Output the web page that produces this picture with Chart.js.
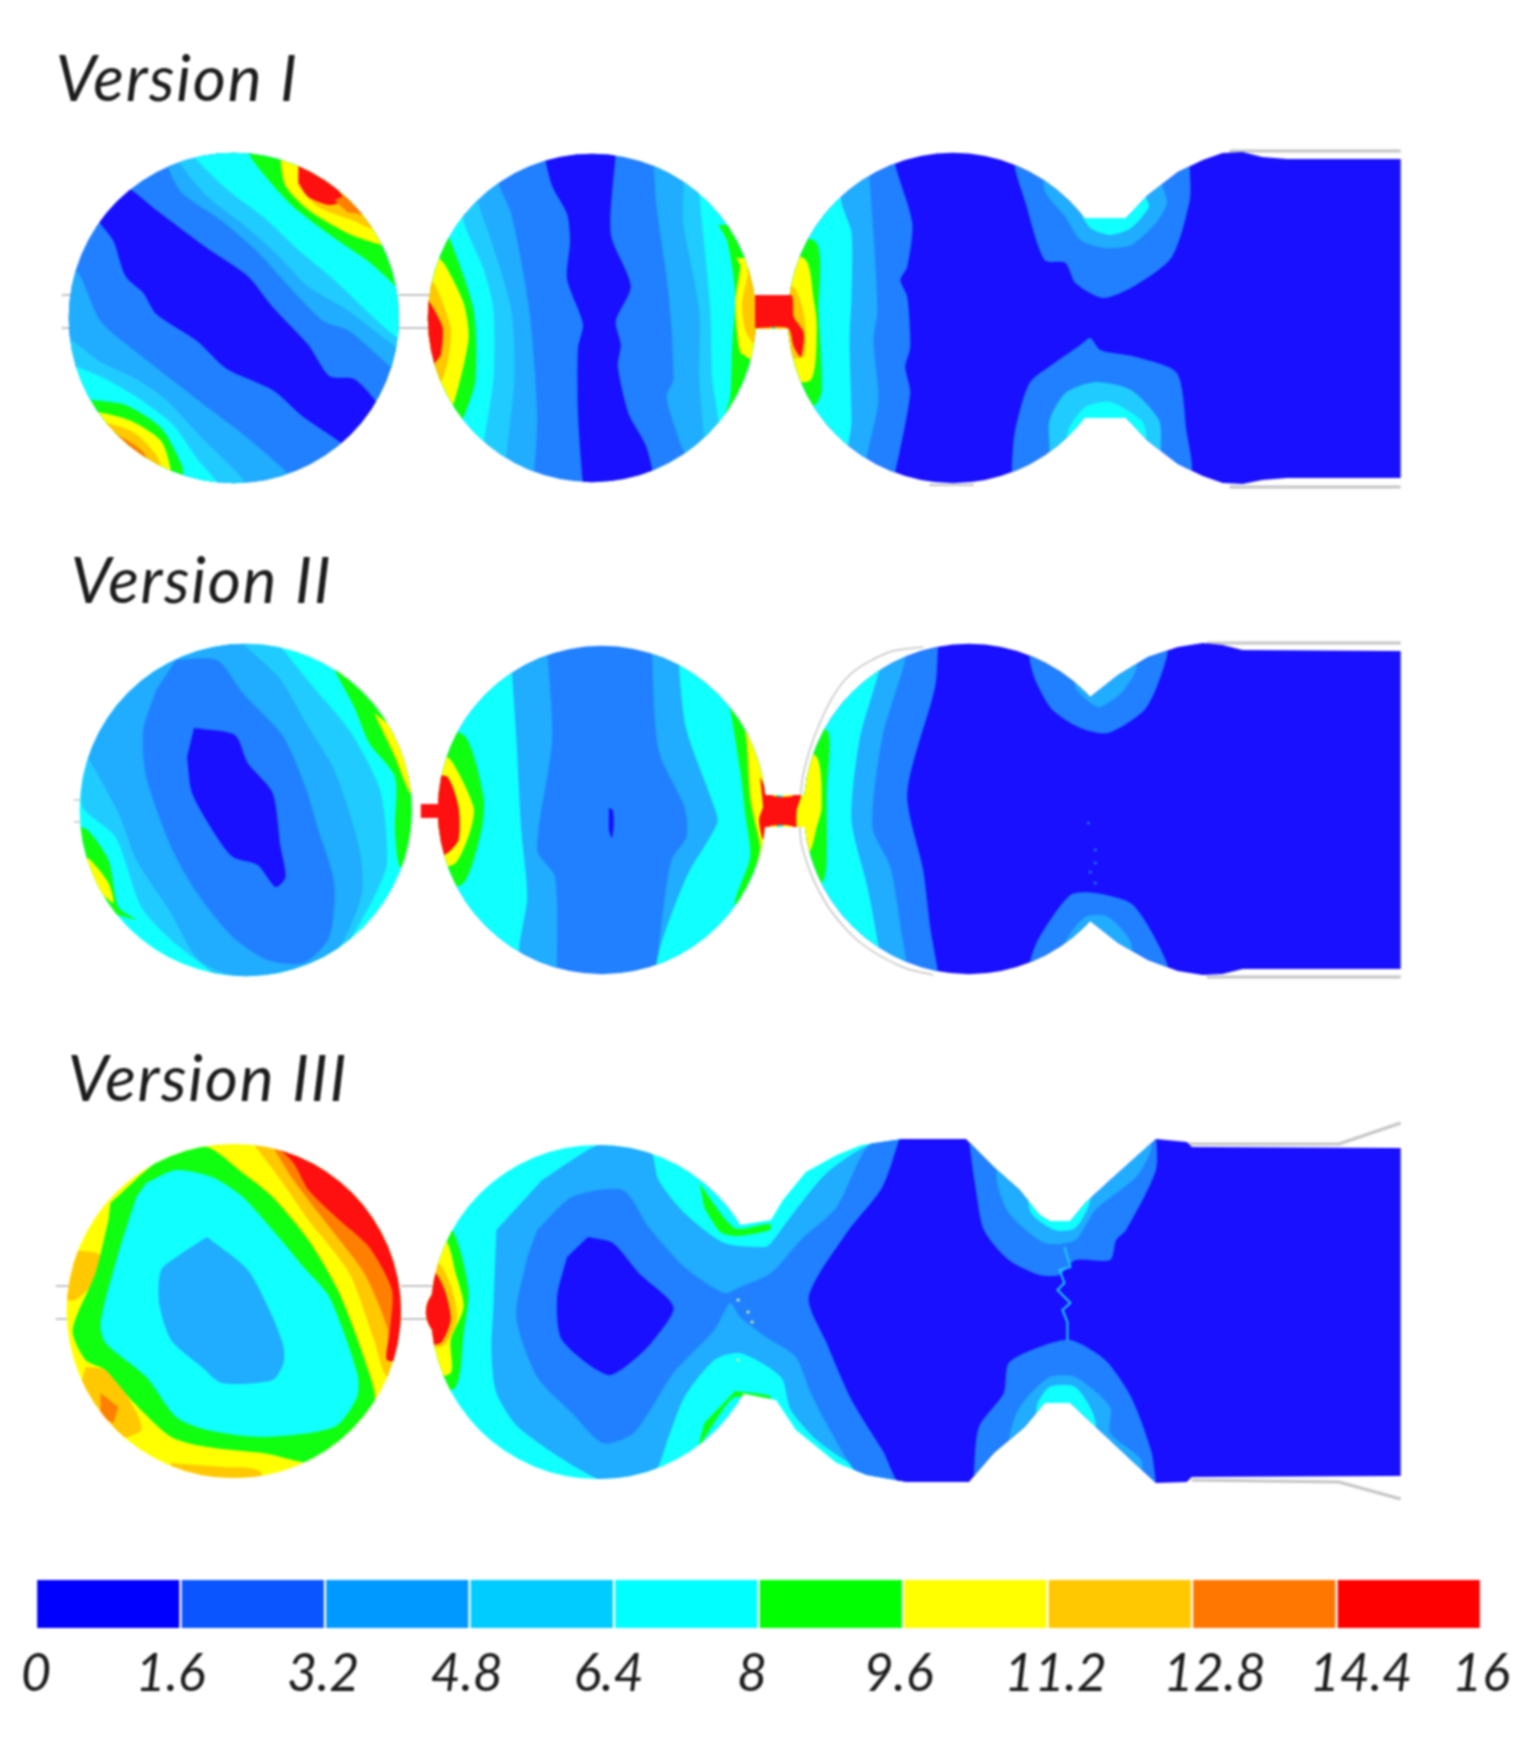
<!DOCTYPE html>
<html><head><meta charset="utf-8">
<script src="https://cdn.jsdelivr.net/npm/chart.js@4"></script>
<style>
html,body{margin:0;padding:0;background:#fff;width:1535px;height:1757px;overflow:hidden}
canvas{position:absolute;left:0;filter:blur(0.8px)}
#field{top:0}
#bar{top:1560px}
</style></head><body>
<canvas id="field" width="1535" height="1757"></canvas>
<canvas id="bar" width="1535" height="197"></canvas>
<script>
// ---------- colour scale ----------
const tickLabels=['0','1.6','3.2','4.8','6.4','8','9.6','11.2','12.8','14.4','16'];
const tickAnchors=[0,1.49,3.18,4.77,6.34,7.93,9.55,11.29,13.05,14.67,16];
const legendColors=['#0000ff','#0a55ff','#0099ff','#00ccff','#00ffff','#00ff00','#ffff00','#ffc800','#ff7700','#ff0000'];
const bandWidth=[1.6];
const bandColors=['#1810ff','#2080ff','#20acff','#20ccff','#10ffff','#10ff10','#ffff00','#ffc800','#ff7f00','#ff1010'];
const sectionTitles=[['Version I',52,101],['Version II',67,603],['Version III',64,1101]];
// ---------- flow domain: chambers [x,y,r], necks [x0,y0,x1,y1], free outlines ----------
const chambers=[[231,318,166],[591,318,165],[954,318,166],
 [243,810,167],[601,810,165],[970,809,166],
 [231,1311,168],[597,1312,168],[452,1312,28]];
const necks=[[750,295,795,329],[1087,218,1128,418],
 [419,804,441,818],[760,795,805,827]];
const outlineV1=[1128,218,1150,195,1180,172,1205,160,1225,153,1245,152,1265,157,1290,159,1404,159,1404,478,1290,478,1265,480,1245,484,1225,483,1205,476,1180,464,1150,441,1128,418];
const outlineV2=[1092,697,1120,675,1150,657,1180,647,1205,643,1225,645,1245,650,1404,651,1404,969,1245,969,1225,974,1205,975,1180,971,1150,960,1120,943,1092,921];
const outlineV3=[740,1225,771,1220,783,1200,806,1172,837,1155,862,1145,903,1139,967,1139,995,1167,1021,1190,1041,1215,1051,1221,1072,1221,1087,1203,1112,1180,1158,1139,1189,1142,1194,1147,1404,1148,1404,1476,1194,1477,1189,1482,1158,1483,1133,1460,1087,1417,1072,1403,1046,1403,1026,1427,995,1453,970,1482,908,1482,867,1475,837,1463,796,1430,776,1400,740,1393];
// ---------- wall lines (thin grey) ----------
const walls=[
 [3,[1232,151,1404,151]],[3,[1232,487,1404,487]],[2,[930,485,975,485]],
 [2,[58,295,70,295]],[2,[58,328,70,328]],[2,[396,295,430,295]],[2,[396,328,430,328]],
 [3,[1209,643,1404,643]],[3,[1209,977,1404,977]],[1.5,[70,800,82,800]],[1.5,[70,822,82,822]],
 [1.5,[924,647,890,652,850,675,826,710,805,767,800,810,803,850,826,903,860,942,903,967,934,975]],
 [3,[1189,1144,1342,1144,1404,1123]],[3,[1194,1480,1342,1482,1404,1499]],
 [2,[52,1286,68,1286]],[2,[52,1319,68,1319]],[2,[398,1286,432,1286]],[2,[398,1319,432,1319]]
];
// ---------- contour bands, painted in order: [band index, x,y,x,y,...] ----------
const versionI=[
 [1,[60,145,405,145,405,495,60,495]],
 [0,[115,185,128,190,153,210,204,248,245,276,270,307,306,345,327,376,352,379,375,403,385,425,350,455,339,443,301,417,270,390,224,369,194,341,153,314,140,293,122,276,110,241,97,224,85,210]],
 [2,[166,140,166,169,179,193,219,221,255,252,286,286,321,321,347,331,393,371,410,385,410,140]],
 [3,[175,140,175,160,205,197,240,224,275,255,305,286,345,310,398,350,410,355,410,140]],
 [4,[188,140,190,155,225,190,262,218,296,250,332,280,372,318,398,340,410,345,410,140]],
 [5,[247,140,247,155,265,179,291,207,332,238,367,262,398,290,410,300,410,140]],
 [6,[278,140,278,160,283,186,306,210,347,234,380,245,410,250,410,140]],
 [7,[296,140,296,166,296,186,316,207,352,221,367,228,410,235,410,140]],
 [9,[296,166,306,169,332,186,342,200,327,205,306,197,296,183]],
 [8,[332,200,345,195,362,215,345,212]],
 [2,[55,265,74,272,97,321,133,352,173,383,204,407,240,434,286,474,300,495,55,495]],
 [3,[55,335,69,341,97,362,133,379,163,400,199,438,240,479,245,495,55,495]],
 [4,[55,358,69,365,100,378,135,398,170,425,195,460,215,483,218,495,55,495]],
 [5,[55,395,89,400,122,405,158,428,179,466,180,480,180,495,55,495]],
 [6,[55,408,94,412,128,421,158,441,168,471,170,495,55,495]],
 [7,[55,420,107,424,133,434,153,455,158,467,160,495,55,495]],
 [8,[90,425,120,438,140,452,148,470,145,495,55,495]],
 // chamber 2
 [1,[420,145,770,145,770,495,420,495]],
 [0,[540,140,543,155,551,186,566,214,569,241,566,279,582,324,577,348,577,414,582,483,585,495,655,495,653,476,645,445,628,414,617,366,620,345,615,321,630,286,610,234,615,152,615,140]],
 [2,[490,140,497,183,510,214,528,310,536,414,533,472,530,495,420,495,420,140]],
 [3,[470,140,477,203,490,241,510,310,513,379,505,455,500,495,420,495,420,140]],
 [4,[455,140,462,221,482,269,492,310,492,379,482,445,478,495,420,495,420,140]],
 [5,[440,225,449,241,472,310,474,379,462,417,450,435,420,435,420,225]],
 [6,[435,255,444,266,462,303,467,338,454,397,445,415,420,415,420,255]],
 [7,[425,275,434,286,449,328,446,362,439,383,430,395,420,395,420,275]],
 [9,[425,298,431,307,441,328,439,355,434,362,425,375,420,370,420,298]],
 [2,[653,140,653,160,656,207,668,293,673,379,666,397,679,441,686,459,690,495,770,495,770,140]],
 [3,[680,140,683,185,683,224,699,310,699,379,704,440,710,495,770,495,770,140]],
 [4,[695,140,700,205,710,310,712,379,718,420,720,495,770,495,770,140]],
 [5,[718,225,727,241,735,293,732,345,730,397,722,430,770,430,770,225]],
 [6,[736,258,740,266,735,303,740,352,750,360,745,395,770,395,770,258]],
 [7,[745,270,748,272,742,303,745,330,755,345,770,345,770,270]],
 // chambers 3-4
 [0,[775,145,1410,145,1410,495,775,495]],
 [1,[775,150,896,150,896,165,913,223,908,267,901,280,908,297,911,347,906,367,911,393,896,472,890,490,775,490]],
 [2,[775,150,870,150,870,175,874,233,878,310,874,340,879,400,868,453,860,490,775,490]],
 [4,[775,160,838,160,842,203,852,233,852,297,850,340,852,420,850,437,840,480,775,480]],
 [5,[775,235,817,243,819,313,822,390,815,405,775,405]],
 [6,[775,250,806,260,814,300,817,327,811,380,775,380]],
 [7,[775,280,794,287,804,313,806,333,804,357,775,357]],
 [9,[755,295,791,295,794,317,804,333,801,357,794,347,788,328,755,328]],
 [1,[1016,140,1016,167,1026,200,1046,260,1067,263,1077,283,1105,298,1138,285,1174,257,1192,200,1192,167,1192,140]],
 [2,[1046,140,1046,190,1067,217,1082,240,1107,248,1133,245,1158,223,1169,203,1163,180,1163,140]],
 [4,[1082,140,1082,210,1092,228,1112,235,1133,228,1151,207,1148,197,1148,140]],
 [1,[1013,500,1013,473,1016,433,1031,383,1056,363,1082,345,1092,338,1102,350,1138,357,1179,373,1189,433,1194,463,1194,500]],
 [3,[1051,500,1051,447,1051,420,1067,393,1097,382,1133,390,1161,420,1163,447,1163,500]],
 [4,[1069,500,1069,433,1087,407,1112,402,1143,420,1148,433,1148,500]]
];
const versionII=[
 [4,[70,635,411,635,411,985,70,985]],
 [3,[70,763,79,763,79,807,112,837,138,907,168,940,214,977,214,985,327,985,327,977,352,933,372,897,385,863,378,790,347,730,311,687,276,643,276,635,70,635]],
 [2,[70,750,79,750,115,813,133,860,166,910,196,960,240,978,301,973,337,947,360,893,357,847,332,770,306,727,276,677,240,643,240,635,70,635]],
 [1,[173,660,214,660,240,693,281,737,304,790,316,830,332,883,327,937,301,963,265,960,230,937,194,893,168,847,143,777,140,730,153,690]],
 [0,[191,728,232,735,245,763,270,793,278,847,283,877,273,887,255,865,230,857,214,837,189,793,184,757]],
 [5,[332,670,352,707,367,743,393,777,393,830,398,867,411,863,411,730,367,677]],
 [6,[372,713,393,757,408,793,411,780,403,737]],
 [5,[70,825,84,830,105,860,115,907,133,920,70,900]],
 [6,[78,855,87,860,105,883,110,903,97,893,75,880]],
 // chamber 2
 [1,[430,635,775,635,775,985,430,985]],
 [2,[546,640,546,647,551,740,536,850,554,877,556,977,556,985,430,985,430,640]],
 [4,[510,640,510,660,515,737,520,830,526,897,518,947,518,985,430,985,430,640]],
 [5,[430,725,464,737,482,797,480,830,462,883,430,890]],
 [6,[430,750,449,760,472,807,469,830,454,863,430,870]],
 [9,[430,775,446,777,457,807,457,840,446,853,430,860]],
 [9,[415,798,446,798,446,824,415,824]],
 [0,[608,808,612,810,613,825,611,838,608,830]],
 [2,[651,635,651,647,658,750,684,807,686,837,671,860,661,923,656,970,656,985,775,985,775,635]],
 [4,[679,635,679,673,686,730,714,807,717,823,686,877,658,953,658,985,775,985,775,635]],
 [5,[725,695,730,710,740,770,745,813,750,857,735,907,775,907,775,695]],
 [6,[745,730,747,747,750,797,755,823,760,847,757,870,775,870,775,730]],
 // chambers 3-4
 [0,[783,635,1410,635,1410,985,783,985]],
 [1,[783,635,939,635,939,645,936,687,908,793,924,870,931,927,939,973,939,985,783,985]],
 [2,[783,640,906,640,906,660,883,737,873,827,891,867,903,937,908,967,908,985,783,985]],
 [4,[783,650,885,650,878,677,860,740,852,820,868,887,878,940,885,985,783,985]],
 [5,[783,722,810,722,829,733,827,793,827,853,824,880,810,892,783,892]],
 [6,[783,745,817,757,822,807,817,827,809,853,783,865]],
 [9,[760,777,771,795,794,795,801,770,801,797,797,810,797,827,804,850,794,827,768,827,763,840,759,820,763,807]],
 [1,[1031,633,1031,660,1038,683,1054,710,1082,728,1110,733,1148,708,1169,657,1169,633]],
 [2,[1077,640,1077,687,1092,703,1102,707,1123,693,1138,670,1138,640]],
 [1,[1031,990,1031,963,1041,937,1072,895,1097,893,1135,905,1169,963,1169,990]],
 [2,[1067,990,1067,943,1087,917,1110,917,1133,943,1133,990]]
];
const versionIII=[
 [6,[60,1135,410,1135,410,1490,60,1490]],
 [7,[240,1130,276,1177,306,1220,347,1273,372,1340,385,1377,408,1373,408,1130]],
 [8,[260,1130,291,1180,327,1227,362,1273,385,1327,388,1360,408,1357,408,1130]],
 [9,[262,1135,291,1163,306,1190,337,1220,367,1247,390,1290,388,1330,385,1360,403,1357,408,1130]],
 [7,[62,1250,97,1255,92,1280,72,1300,60,1300]],
 [7,[82,1367,102,1370,122,1393,138,1430,97,1440,71,1407]],
 [8,[97,1393,115,1407,110,1423,97,1417]],
 [7,[168,1463,219,1467,255,1470,265,1490,168,1490]],
 [8,[173,1470,204,1478,255,1480,204,1487]],
 [5,[107,1203,163,1155,204,1147,240,1173,270,1197,306,1240,337,1293,367,1373,372,1403,327,1463,260,1453,204,1447,168,1437,128,1400,102,1370,82,1360,69,1330,92,1273,105,1220]],
 [4,[143,1183,173,1170,209,1177,240,1197,276,1237,301,1267,327,1297,355,1373,355,1397,332,1427,260,1437,204,1430,173,1417,143,1377,102,1343,97,1323,115,1253,133,1197]],
 [2,[204,1237,245,1270,270,1317,281,1347,281,1363,270,1380,219,1383,199,1367,168,1340,156,1303,158,1270,179,1253]],
 // chambers 2-3 joined
 [4,[420,1130,910,1130,910,1490,420,1490]],
 [2,[541,1180,602,1143,648,1147,658,1180,684,1213,724,1243,765,1247,771,1243,796,1210,827,1173,865,1147,903,1135,910,1490,857,1467,817,1440,791,1410,781,1377,740,1353,714,1360,684,1397,668,1437,653,1473,607,1483,520,1430,495,1393,490,1350,492,1307,495,1230]],
 [1,[536,1230,571,1197,622,1190,648,1227,684,1267,724,1293,740,1287,771,1273,801,1240,837,1207,868,1147,903,1135,910,1490,860,1475,832,1433,811,1393,796,1357,766,1337,740,1317,730,1303,714,1330,673,1373,633,1433,602,1443,571,1413,536,1377,515,1317,526,1257]],
 [0,[587,1237,612,1243,638,1273,673,1307,653,1340,633,1360,607,1375,561,1340,556,1297,566,1257]],
 [0,[903,1130,883,1187,847,1233,809,1297,827,1343,852,1400,883,1450,908,1490,1410,1490,1410,1130]],
 [1,[970,1130,970,1140,977,1190,985,1230,1010,1260,1041,1275,1061,1275,1077,1260,1112,1260,1118,1240,1128,1230,1158,1170,1158,1130]],
 [2,[998,1130,998,1180,1010,1213,1046,1243,1077,1240,1097,1210,1138,1177,1153,1150,1153,1130]],
 [4,[1031,1130,1031,1210,1056,1230,1077,1228,1092,1200,1092,1130]],
 [1,[975,1490,975,1473,980,1427,1005,1393,1010,1363,1041,1347,1072,1340,1107,1360,1133,1397,1153,1450,1158,1483,1158,1490]],
 [2,[1010,1490,1010,1440,1021,1407,1051,1377,1077,1377,1112,1407,1112,1433,1143,1460,1143,1490]],
 [4,[1038,1490,1038,1407,1051,1387,1077,1387,1097,1420,1097,1490]],
 [5,[420,1225,449,1227,467,1290,462,1333,454,1387,420,1395]],
 [6,[420,1235,444,1240,454,1273,462,1307,449,1340,449,1373,420,1378]],
 [7,[420,1262,439,1265,452,1295,455,1320,443,1345,420,1350]],
 [9,[420,1268,434,1273,444,1293,449,1320,439,1343,420,1345]],
 [5,[699,1183,724,1218,737,1229,770,1224,770,1230,737,1236,720,1232,704,1208]],
 [5,[735,1391,770,1396,770,1404,735,1397,719,1415,699,1445,704,1423]]
];
// ---------- fine numerical streaks ----------
const streakV3=[1066,1247,1072,1267,1061,1270,1066,1283,1059,1290,1072,1303,1064,1310,1069,1322,1069,1340];
const specksV2=[1090,823,1097,850,1097,863,1092,872,1097,883];
const specksV3=[738,1300,748,1312,752,1322,738,1360];

const pairs=f=>{const o=[];for(let i=0;i<f.length;i+=2)o.push({x:f[i],y:f[i+1]});return o;};
const bandDatasets=[...versionI,...versionII,...versionIII].map(([lvl,pts],i)=>({
  label:'band '+lvl+' #'+i,data:pairs(pts),showLine:true,fill:'shape',tension:pts.length>8?0.25:0,
  backgroundColor:bandColors[lvl],borderWidth:0,pointRadius:0}));
const wallDatasets=walls.map(([w,pts],i)=>({label:'wall '+i,data:pairs(pts),showLine:true,fill:false,
  tension:pts.length>8?0.3:0,borderColor:'#c4c4c4',borderWidth:w,pointRadius:0}));
const detail=[
 {label:'streak',data:pairs(streakV3),showLine:true,fill:false,borderColor:bandColors[3],borderWidth:2,pointRadius:0},
 {label:'specks II',data:pairs(specksV2),showLine:false,backgroundColor:bandColors[1],pointRadius:1.5,borderWidth:0},
 {label:'specks III',data:pairs(specksV3),showLine:false,backgroundColor:'#d8ff90',pointRadius:1.5,borderWidth:0}
];
// Chart.js paints the last dataset first, so the painting order is reversed here.
const datasets=[...detail,...bandDatasets.slice().reverse(),...wallDatasets];
const firstClipped=datasets.length-wallDatasets.length-1;

const domainPlugin={id:'domain',
 afterDatasetDraw(chart,args){
  if(args.index!==firstClipped+1)return;
  const {ctx,scales:{x,y}}=chart;
  ctx.save();ctx.beginPath();
  const s=(x.getPixelForValue(100)-x.getPixelForValue(0))/100;
  chambers.forEach(([cx,cy,r])=>{const px=x.getPixelForValue(cx),py=y.getPixelForValue(cy);
    ctx.moveTo(px+r*s,py);ctx.arc(px,py,r*s,0,Math.PI*2);ctx.closePath();});
  necks.forEach(([a,b,c,d])=>{const x0=x.getPixelForValue(a),x1=x.getPixelForValue(c),y0=y.getPixelForValue(b),y1=y.getPixelForValue(d);
    ctx.moveTo(x0,y0);ctx.lineTo(x1,y0);ctx.lineTo(x1,y1);ctx.lineTo(x0,y1);ctx.closePath();});
  [outlineV1,outlineV2,outlineV3].forEach(o=>{
    pairs(o).forEach((p,i)=>{const a=x.getPixelForValue(p.x),b=y.getPixelForValue(p.y);i?ctx.lineTo(a,b):ctx.moveTo(a,b);});
    ctx.closePath();});
  ctx.clip();
 },
 afterDatasetsDraw(chart){chart.ctx.restore();},
 afterDraw(chart){
  const {ctx,scales:{x,y}}=chart;
  ctx.save();ctx.fillStyle='#1c1c1c';ctx.font='italic 64px Lato';ctx.letterSpacing='1.7px';ctx.textBaseline='alphabetic';
  sectionTitles.forEach(([t,a,b])=>ctx.fillText(t,x.getPixelForValue(a),y.getPixelForValue(b)));
  ctx.restore();
 }};

new Chart(document.getElementById('field'),{type:'scatter',
 data:{datasets},
 options:{responsive:false,animation:false,devicePixelRatio:1,layout:{autoPadding:false,padding:{left:4,right:4,top:0,bottom:0}},
  plugins:{legend:{display:false},tooltip:{enabled:false},title:{display:false}},
  scales:{x:{type:'linear',min:0,max:1535,display:false},
          y:{type:'linear',min:0,max:1757,reverse:true,display:false}}},
 plugins:[domainPlugin]});

new Chart(document.getElementById('bar'),{type:'bar',
 data:{labels:[''],datasets:legendColors.map((c,i)=>({label:tickLabels[i]+'–'+tickLabels[i+1],data:bandWidth,backgroundColor:c,
   borderColor:'#ffffff',borderWidth:{left:1.5,right:1.5,top:0,bottom:0},borderSkipped:false}))},
 options:{indexAxis:'y',responsive:false,animation:false,devicePixelRatio:1,
  layout:{padding:{left:36,right:54,top:20,bottom:39}},
  datasets:{bar:{barPercentage:1,categoryPercentage:1}},
  plugins:{legend:{display:false},tooltip:{enabled:false}},
  scales:{
   y:{stacked:true,display:false},
   x:{stacked:true,type:'linear',min:0,max:16,grid:{display:false},border:{display:false},
      afterBuildTicks(s){s.ticks=tickAnchors.map(v=>({value:v}));},
      afterFit(s){s.height=90;},
      ticks:{autoSkip:false,maxRotation:0,padding:7,color:'#1c1c1c',font:{family:'Lato',style:'italic',size:52},
        callback:(v,i)=>tickLabels[i]}}}}});
</script></body></html>
